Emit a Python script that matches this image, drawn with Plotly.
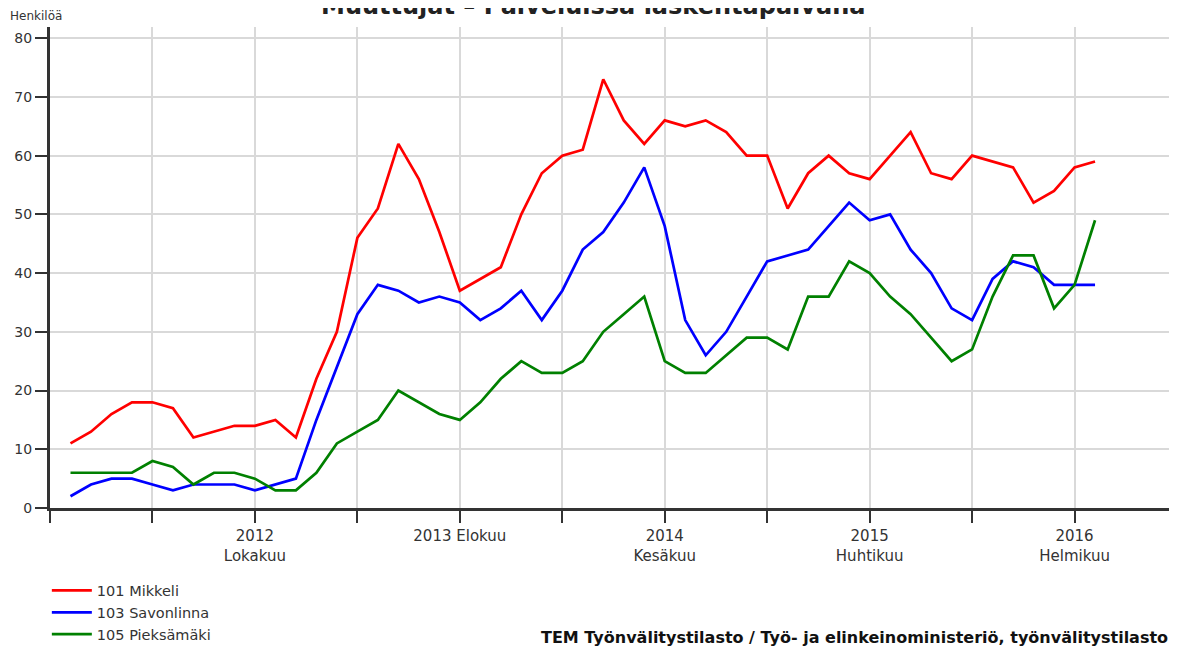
import plotly.graph_objects as go

# Monthly data, Jan 2012 .. Mar 2016 (index 0 = 2012-01)
months = [f"{2012 + (i // 12)}-{(i % 12) + 1:02d}" for i in range(51)]

mikkeli = [11, 13, 16, 18, 18, 17, 12, 13, 14, 14, 15, 12,
           22, 30, 46, 51, 62, 56, 47, 37, 39, 41, 50, 57,
           60, 61, 73, 66, 62, 66, 65, 66, 64, 60, 60, 51,
           57, 60, 57, 56, 60, 64, 57, 56, 60, 59, 58, 52,
           54, 58, 59]
savonlinna = [2, 4, 5, 5, 4, 3, 4, 4, 4, 3, 4, 5,
              15, 24, 33, 38, 37, 35, 36, 35, 32, 34, 37, 32,
              37, 44, 47, 52, 58, 48, 32, 26, 30, 36, 42, 43,
              44, 48, 52, 49, 50, 44, 40, 34, 32, 39, 42, 41,
              38, 38, 38]
pieksamaki = [6, 6, 6, 6, 8, 7, 4, 6, 6, 5, 3, 3,
              6, 11, 13, 15, 20, 18, 16, 15, 18, 22, 25, 23,
              23, 25, 30, 33, 36, 25, 23, 23, 26, 29, 29, 27,
              36, 36, 42, 40, 36, 33, 29, 25, 27, 36, 43, 43,
              34, 38, 49]

series_names = ["101 Mikkeli", "103 Savonlinna", "105 Pieksämäki"]
series_colors = ["#ff0000", "#0000ff", "#008000"]

tick_vals = [-1, 4, 9, 14, 19, 24, 29, 34, 39, 44, 49, 54]
tick_text = ["", "", "2012<br>Lokakuu", "", "2013 Elokuu", "", "2014<br>Kesäkuu",
             "", "2015<br>Huhtikuu", "", "2016<br>Helmikuu", ""]
y_ticks = [0, 10, 20, 30, 40, 50, 60, 70, 80]

title_text = "Muuttujat – Palveluissa laskentapäivänä"
y_unit = "Henkilöä"
source_text = "TEM Työnvälitystilasto / Työ- ja elinkeinoministeriö, työnvälitystilasto"

x_idx = list(range(len(months)))

fig = go.Figure()
for name, vals, col in zip(series_names, [mikkeli, savonlinna, pieksamaki], series_colors):
    fig.add_trace(go.Scatter(x=x_idx, y=vals, mode="lines", name=name,
                             line=dict(color=col, width=2.7),
                             customdata=months,
                             hovertemplate="%{customdata}: %{y}<extra>" + name + "</extra>"))

font_family = "DejaVu Sans, Arial, sans-serif"

fig.update_layout(
    width=1177, height=646,
    margin=dict(l=42, r=8, t=19, b=146, autoexpand=False),
    paper_bgcolor="white", plot_bgcolor="white",
    font=dict(family=font_family, color="#333333"),
    showlegend=True,
    legend=dict(xref="container", yref="container", x=0.033, y=0.123,
                xanchor="left", yanchor="top", itemwidth=40,
                font=dict(size=14.5, color="#333333"), bgcolor="rgba(0,0,0,0)",
                tracegroupgap=0),
    xaxis=dict(range=[-1, 54], tickmode="array", tickvals=tick_vals, ticktext=tick_text,
               showgrid=True, gridcolor="#d9d9d9", gridwidth=2,
               showline=True, linecolor="#333333", linewidth=3,
               ticks="outside", ticklen=12, tickwidth=2, tickcolor="#333333",
               tickfont=dict(size=15, color="#333333"), zeroline=False, automargin=False),
    yaxis=dict(range=[0, 81.9], tickmode="array", tickvals=y_ticks,
               showgrid=True, gridcolor="#d9d9d9", gridwidth=2,
               showline=True, linecolor="#333333", linewidth=3,
               ticks="outside", ticklen=12, tickwidth=2, tickcolor="#333333",
               tickfont=dict(size=14, color="#333333"), zeroline=False, automargin=False),
    annotations=[
        dict(text="<b>" + title_text + "</b>", xref="paper", yref="paper",
             x=0.482, y=1.043, xanchor="center", yanchor="middle", showarrow=False,
             font=dict(size=24, color="#222222")),
        dict(text=y_unit, xref="paper", yref="paper", x=-0.0124, y=1.023,
             xanchor="center", yanchor="middle", showarrow=False,
             font=dict(size=12, color="#333333")),
        dict(text="<b>" + source_text + "</b>", xref="paper", yref="paper",
             x=0.994, y=-0.270, xanchor="right", yanchor="middle", showarrow=False,
             font=dict(size=16, color="#111111")),
    ],
)

fig.write_html("out.html")
